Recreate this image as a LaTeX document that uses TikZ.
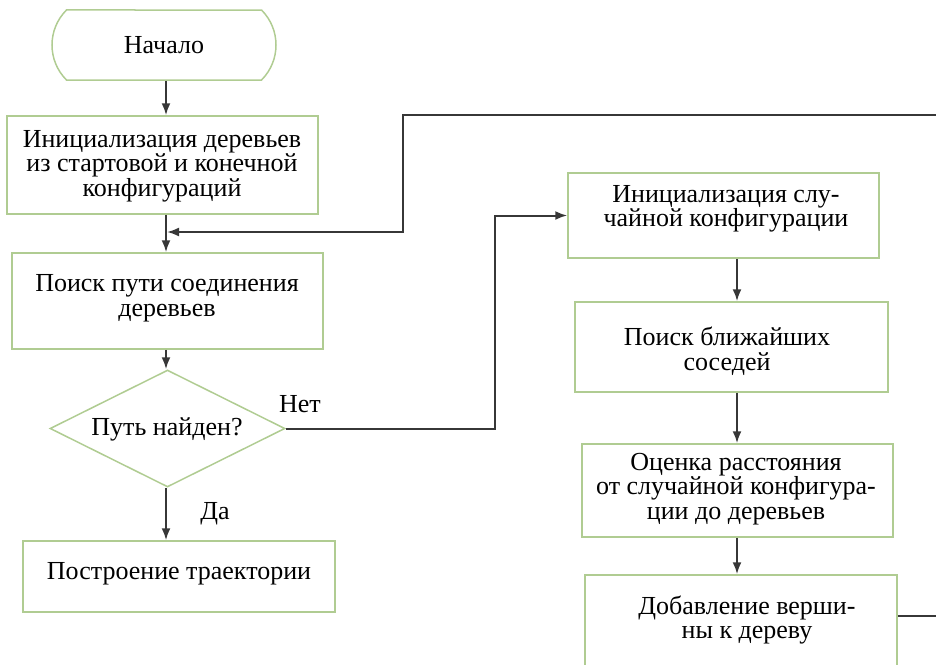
\documentclass[tikz,border=0pt]{standalone}
\usepackage{fontspec}
\setmainfont{Liberation Serif}
\usetikzlibrary{shapes.geometric,shapes.misc,arrows.meta,calc}
\definecolor{boxgreen}{RGB}{176,204,146}
\definecolor{linegray}{RGB}{55,55,55}
\begin{document}
\begin{tikzpicture}[x=1pt,y=-1pt,
  box/.style={draw=boxgreen, line width=1.5pt, inner sep=0pt},
  txt/.style={font=\fontsize{26}{24.5}\selectfont, align=center, inner sep=0pt},
  conn/.style={draw=linegray, line width=2pt},
  arr/.style={conn, -{Latex[length=12pt,width=9pt]}}]
\useasboundingbox (0,0) rectangle (936,664);

% left column
\node[box, rounded rectangle, rounded rectangle arc length=90,
      minimum width=224pt, minimum height=70pt] (start) at (164,45) {};
\node[txt] (t0) at (164,45) {Начало};
\node[box, minimum width=311pt, minimum height=98pt] (b1) at (162.5,165) {};
\node[txt] (t1) at (162,166) {Инициализация деревьев\\из стартовой и конечной\\конфигураций};
\node[box, minimum width=311pt, minimum height=96pt] (b2) at (167.5,301) {};
\node[txt] (t2) at (167,298) {Поиск пути соединения\\деревьев};
\node[box, diamond, minimum width=235pt, minimum height=117pt] (d) at (167.5,428.5) {};
\node[txt] (td) at (167,429) {Путь найден?};
\node[box, minimum width=312pt, minimum height=71pt] (b7) at (179,576.5) {};
\node[txt] (t7) at (179,574) {Построение траектории};

% right column
\node[box, minimum width=311pt, minimum height=85pt] (b3) at (723.5,215.5) {};
\node[txt] (t3) at (726,209) {Инициализация слу-\\чайной конфигурации};
\node[box, minimum width=313pt, minimum height=90pt] (b4) at (731.5,347) {};
\node[txt] (t4) at (727,351) {Поиск ближайших\\соседей};
\node[box, minimum width=311pt, minimum height=93pt] (b5) at (737.5,490.5) {};
\node[txt] (t5) at (736,489) {Оценка расстояния\\от случайной конфигура-\\ции до деревьев};
\node[box, minimum width=312pt, minimum height=105pt] (b6) at (741,627.5) {};
\node[txt] (t6) at (747,620) {Добавление верши-\\ны к дереву};

% labels
\node[txt] (net) at (300,404) {Нет};
\node[txt] (da) at (215,514) {Да};

% helper coordinates
\coordinate (lx) at (166,0);
\coordinate (ax) at (737,0);
\coordinate (nx) at (495,0);
\coordinate (rt) at (946,115);
\coordinate (lt) at (403,115);
\coordinate (m) at (167,232);

% connectors
\draw[arr] (start.south -| lx) -- (b1.north -| lx);
\draw[arr] (b1.south -| lx) -- (b2.north -| lx);
\draw[arr] (b2.south -| lx) -- (d.north -| lx);
\draw[arr] (d.south -| lx) -- (b7.north -| lx);
\draw[arr] (d.east) -| (nx |- b3.west) -- (b3.west);
\draw[arr] (b3.south -| ax) -- (b4.north -| ax);
\draw[arr] (b4.south -| ax) -- (b5.north -| ax);
\draw[arr] (b5.south -| ax) -- (b6.north -| ax);
\draw[arr] ($(b6.east)+(0,-11.5)$) -| (rt) -- (lt) |- (m);
\end{tikzpicture}
\end{document}
